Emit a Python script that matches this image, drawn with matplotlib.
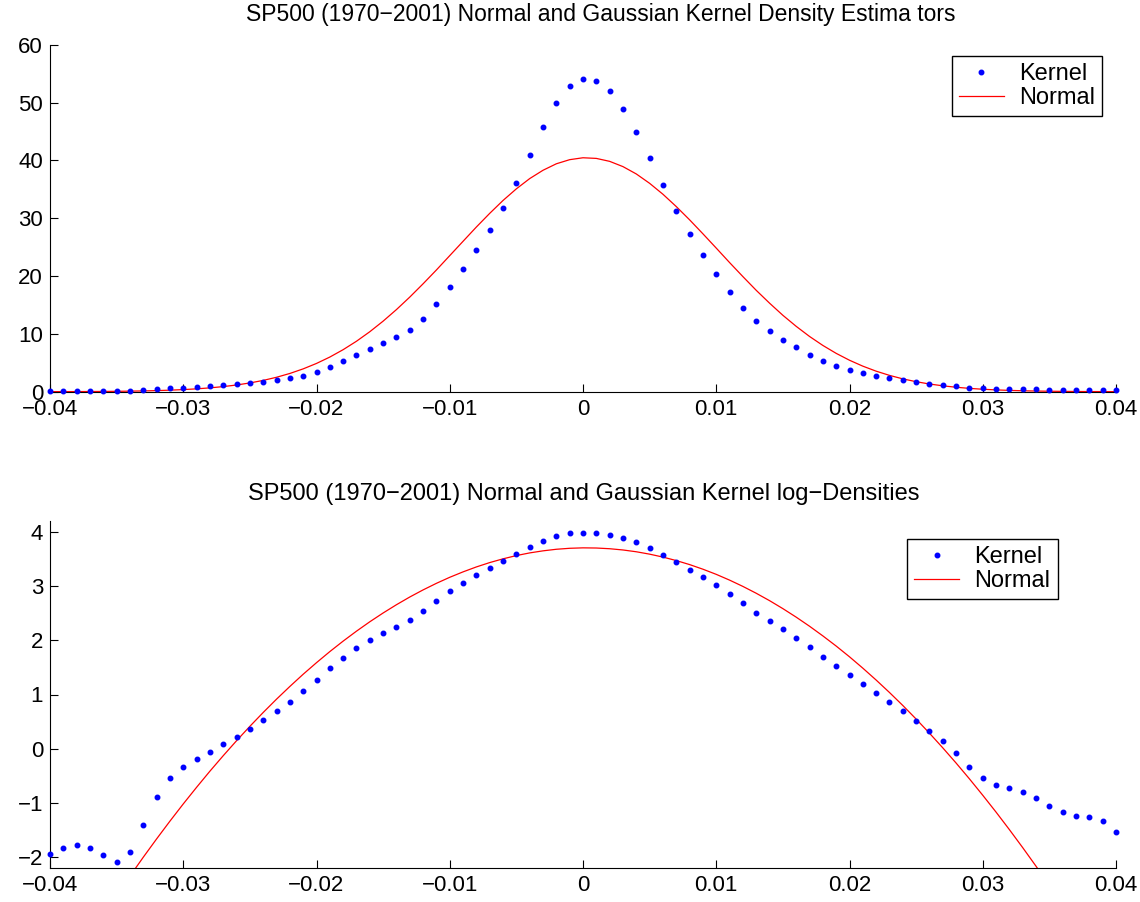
import numpy as np
import matplotlib
matplotlib.use("Agg")
import matplotlib.pyplot as plt

plt.rcParams['font.family'] = ['Liberation Sans', 'DejaVu Sans']

# valores (rejilla de 0.001)
x_kernel = np.round(np.arange(-0.040, 0.0405, 0.001), 3)

kernel_dens = [
    0.14, 0.16, 0.17, 0.16, 0.14, 0.12, 0.15, 0.25, 0.41, 0.58,
    0.72, 0.83, 0.95, 1.09, 1.25, 1.44, 1.65, 1.97, 2.38, 2.80,
    3.46, 4.32, 5.30, 6.34, 7.38, 8.36, 9.39, 10.72, 12.62, 15.16,
    18.10, 21.27, 24.50, 28.01, 31.82, 36.14, 40.92, 45.71, 49.97, 52.85,
    54.06,
    53.72, 51.93, 48.93, 44.96, 40.46, 35.79, 31.30, 27.26, 23.63, 20.35,
    17.23, 14.52, 12.28, 10.49, 8.99, 7.67, 6.40, 5.36, 4.50, 3.75,
    3.23, 2.76, 2.35, 1.95, 1.64, 1.36, 1.13, 0.90, 0.70, 0.58,
    0.52, 0.49, 0.45, 0.40, 0.35, 0.31, 0.29, 0.28, 0.26, 0.22,
]

kernel_log = [
    -1.94, -1.82, -1.78, -1.82, -1.95, -2.08, -1.90, -1.40, -0.89, -0.54,
    -0.33, -0.19, -0.055, 0.086, 0.22, 0.37, 0.53, 0.70, 0.87, 1.06,
    1.26, 1.49, 1.68, 1.86, 2.01, 2.13, 2.24, 2.38, 2.54, 2.72,
    2.90, 3.06, 3.20, 3.33, 3.46, 3.59, 3.71, 3.82, 3.91, 3.97,
    3.98,
    3.98, 3.94, 3.89, 3.80, 3.70, 3.57, 3.44, 3.30, 3.16, 3.01,
    2.85, 2.68, 2.50, 2.35, 2.20, 2.04, 1.87, 1.69, 1.52, 1.35,
    1.19, 1.03, 0.87, 0.69, 0.52, 0.33, 0.135, -0.086, -0.33, -0.53,
    -0.66, -0.72, -0.80, -0.91, -1.05, -1.17, -1.23, -1.25, -1.33, -1.53,
]

# curva normal, misma rejilla
normal_dens = [
    0.010, 0.015, 0.022, 0.032, 0.046, 0.067, 0.096, 0.136, 0.190, 0.264,
    0.362, 0.492, 0.662, 0.881, 1.161, 1.513, 1.953, 2.495, 3.154, 3.947,
    4.887, 5.991, 7.268, 8.725, 10.37, 12.20, 14.20, 16.36, 18.66, 21.05,
    23.53, 26.01, 28.48, 30.84, 33.07, 35.08, 36.85, 38.29, 39.41, 40.12,
    40.45,
    40.34, 39.83, 38.92, 37.65, 36.03, 34.14, 32.01, 29.72, 27.30, 24.83,
    22.33, 19.90, 17.53, 15.31, 13.21, 11.30, 9.554, 8.00, 6.630, 5.44,
    4.417, 3.55, 2.823, 2.22, 1.731, 1.33, 1.019, 0.770, 0.575, 0.425,
    0.312, 0.226, 0.162, 0.115, 0.081, 0.056, 0.039, 0.026, 0.018, 0.012,
]

x_normal_log = np.round(np.arange(-0.036, 0.0365, 0.001), 3)
normal_log = [
    -3.07, -2.702, -2.344, -1.996, -1.659, -1.332, -1.015, -0.709, -0.412, -0.127,
    0.149, 0.414, 0.669, 0.914, 1.148, 1.373, 1.586, 1.790, 1.983, 2.166,
    2.339, 2.501, 2.653, 2.795, 2.926, 3.047, 3.158, 3.258, 3.349, 3.429,
    3.498, 3.558, 3.607, 3.645, 3.674, 3.692, 3.700,
    3.697, 3.684, 3.661, 3.628, 3.584, 3.530, 3.466, 3.392, 3.307, 3.212,
    3.106, 2.990, 2.864, 2.728, 2.581, 2.424, 2.257, 2.079, 1.892, 1.694,
    1.485, 1.266, 1.037, 0.798, 0.548, 0.288, 0.018, -0.262, -0.553, -0.855,
    -1.166, -1.488, -1.820, -2.162, -2.515, -2.877,
]

W, H = 1140, 902
fig = plt.figure(figsize=(W / 100, H / 100), dpi=100)


def caja(x0, y0, x1, y1):
    # pixeles -> coordenadas de figura
    return [x0 / W, 1 - y1 / H, (x1 - x0) / W, (y1 - y0) / H]


def estilo(ax):
    ax.spines['top'].set_visible(False)
    ax.spines['right'].set_visible(False)
    ax.tick_params(direction='in', length=6, width=0.8, labelsize=16, pad=5)
    ax.set_xlim(-0.04, 0.04)
    ax.set_xticks(np.round(np.arange(-0.04, 0.041, 0.01), 2))
    ax.set_xticklabels(['\u22120.04', '\u22120.03', '\u22120.02', '\u22120.01', '0',
                        '0.01', '0.02', '0.03', '0.04'])


def leyenda(ax, x_der, y_sup):
    leg = ax.legend(loc='upper right', bbox_to_anchor=(x_der / W, 1 - y_sup / H),
                    bbox_transform=fig.transFigure, fontsize=17, fancybox=False,
                    edgecolor='black', framealpha=1, borderpad=0.3,
                    handlelength=1.9, handletextpad=0.65, labelspacing=0.08,
                    borderaxespad=0)
    leg.get_frame().set_linewidth(1.0)


ax1 = fig.add_axes(caja(50, 44.7, 1116, 391.7))
ax1.plot(x_kernel, kernel_dens, 'b.', markersize=6.5, label='Kernel', clip_on=False, zorder=3)
ax1.plot(x_kernel, normal_dens, 'r-', linewidth=0.9, label='Normal')
estilo(ax1)
ax1.set_ylim(0, 60)
ax1.set_yticks(range(0, 61, 10))
leyenda(ax1, 1102.3, 56)

ax2 = fig.add_axes(caja(50, 520.7, 1116, 868.3))
ax2.plot(x_kernel, kernel_log, 'b.', markersize=6.5, label='Kernel', clip_on=False, zorder=3)
ax2.plot(x_normal_log, normal_log, 'r-', linewidth=0.9, label='Normal')
estilo(ax2)
ax2.set_ylim(-2.2, 4.2)
ax2.set_yticks(range(-2, 5))
ax2.set_yticklabels(['\u22122', '\u22121', '0', '1', '2', '3', '4'])
leyenda(ax2, 1057.7, 539)

fig.text(601 / W, 1 - 14 / H, 'SP500 (1970\u22122001) Normal and Gaussian Kernel Density Estima tors',
         ha='center', va='center', fontsize=16.5)
fig.text(584 / W, 1 - 494 / H, 'SP500 (1970\u22122001) Normal and Gaussian Kernel log\u2212Densities',
         ha='center', va='center', fontsize=17)

fig.savefig('out.png', dpi=100)
